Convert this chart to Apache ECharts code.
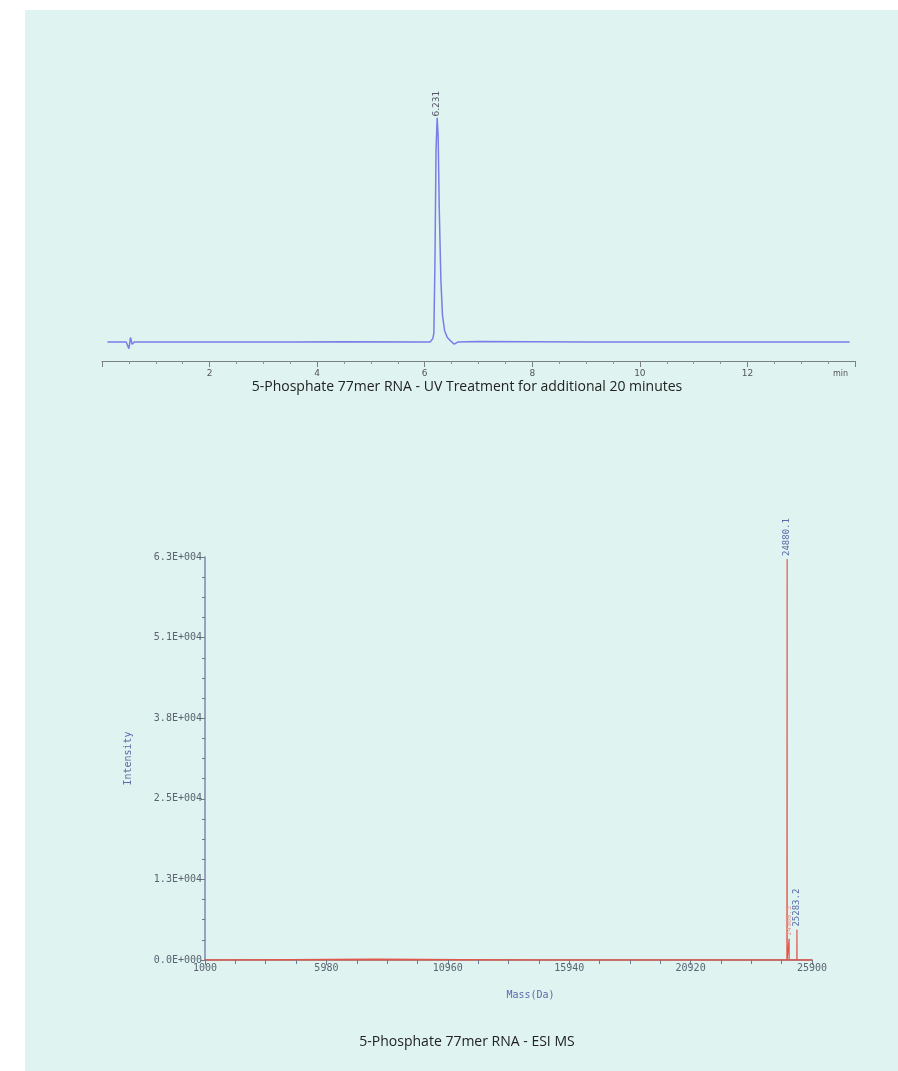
<!DOCTYPE html>
<html>
<head>
<meta charset="utf-8">
<script src="https://cdn.jsdelivr.net/npm/echarts@6/dist/echarts.min.js"></script>
<style>
  html, body { margin: 0; padding: 0; background: #ffffff; }
  #panel { position: absolute; left: 25px; top: 10px; width: 873px; height: 1061px; background: #dff3f1; }
  #main { position: absolute; left: 0; top: 0; width: 898px; height: 1071px; }
</style>
</head>
<body>
<div id="panel"></div>
<div id="main"></div>
<script>
// UV chromatogram (time in min, signal in mAU-ish units)
var uvTime = [0.1, 0.45, 0.5, 0.53, 0.56, 0.6, 3.5, 4.5, 6.1, 6.15, 6.17, 6.19, 6.21, 6.231, 6.25, 6.27, 6.3, 6.33, 6.37, 6.42, 6.48, 6.55, 6.62, 7, 9, 13.9];
var uvSignal = [0, 0, -3, 2, -1, 0, 0, 0.15, 0, 1.5, 4, 35, 85, 100, 92, 60, 28, 12, 5, 2, 0.5, -1, 0, 0.2, 0, 0];
var uvPeakLabel = '6.231';
var uvTickLabels = {0: '', 2: '2', 4: '4', 6: '6', 8: '8', 10: '10', 12: '12'};

// ESI MS deconvoluted spectrum
var massDa = [1000, 8000, 15000, 24870, 24878, 24880.1, 24882, 24955, 24958, 24960.5, 24963, 25278, 25281, 25283.2, 25286, 25900];
var intensity = [0, 150, 0, 0, 0, 63000, 0, 0, 0, 3300, 0, 0, 0, 4700, 0, 0];
var intensityLabels = ['0.0E+000', '1.3E+004', '2.5E+004', '3.8E+004', '5.1E+004', '6.3E+004'];
var massPeakLabels = {'24880.1': '24880.1', '24960.5': '24960.5', '25283.2': '25283.2'};

var uvData = uvTime.map(function (t, i) {
  var item = { value: [t, uvSignal[i]] };
  if (t === 6.231) {
    item.symbol = 'circle';
    item.symbolSize = 1;
    item.label = {
      show: true, formatter: uvPeakLabel, position: 'top', rotate: 90,
      align: 'left', verticalAlign: 'middle', distance: 1,
      color: '#555566', fontSize: 9, fontFamily: 'DejaVu Sans'
    };
  }
  return item;
});

var msData = massDa.map(function (m, i) {
  var item = { value: [m, intensity[i]] };
  var key = String(m);
  if (massPeakLabels[key]) {
    var small = key === '24960.5';
    item.symbol = 'circle';
    item.symbolSize = 1;
    item.label = {
      show: true, formatter: massPeakLabels[key], position: 'top', rotate: 90,
      align: 'left', verticalAlign: 'middle', distance: 3,
      color: small ? '#e89a90' : '#5a6aa8', fontSize: small ? 7 : 9,
      fontFamily: 'DejaVu Sans Mono'
    };
  }
  return item;
});

var myChart = echarts.init(document.getElementById('main'));
var monoFont = 'DejaVu Sans Mono';
var axisGrey = '#6d7a8a';

var option = {
  backgroundColor: 'transparent',
  animation: false,
  title: [
    {
      text: '5-Phosphate 77mer RNA - UV Treatment for additional 20 minutes',
      left: 462, top: 375, textAlign: 'center',
      textStyle: { fontSize: 14, fontWeight: 'normal', color: '#222222', fontFamily: 'Open Sans' }
    },
    {
      text: '5-Phosphate 77mer RNA - ESI MS',
      left: 462, top: 1030, textAlign: 'center',
      textStyle: { fontSize: 14, fontWeight: 'normal', color: '#222222', fontFamily: 'Open Sans' }
    }
  ],
  grid: [
    { left: 102, width: 753, top: 106.8, height: 254.2, outerBoundsMode: 'none' },
    { left: 205, right: 86, top: 557, height: 403, outerBoundsMode: 'none' }
  ],
  xAxis: [
    {
      gridIndex: 0, type: 'value', min: 0, max: 14, interval: 2,
      splitLine: { show: false },
      axisLine: { onZero: false, lineStyle: { color: '#7a8080', width: 1 } },
      axisTick: { length: 6, lineStyle: { color: '#7a8080' } },
      minorTick: { show: true, splitNumber: 4, length: 3, lineStyle: { color: '#8a9090' } },
      axisLabel: {
        color: '#555', fontSize: 9, fontFamily: 'DejaVu Sans', margin: 8,
        formatter: function (v) { return uvTickLabels[v] !== undefined ? uvTickLabels[v] : ''; }
      },
      name: 'min', nameLocation: 'end', nameGap: -22,
      nameTextStyle: { color: '#555', fontSize: 8, fontFamily: 'DejaVu Sans', verticalAlign: 'top', padding: [9, 0, 0, 0] }
    },
    {
      gridIndex: 1, type: 'value', min: 1000, max: 25900, interval: 4980,
      splitLine: { show: false },
      axisLine: { lineStyle: { color: '#b5534d', width: 1.5 } },
      axisTick: { length: 5, lineStyle: { color: axisGrey } },
      minorTick: { show: true, splitNumber: 4, length: 4, lineStyle: { color: axisGrey } },
      axisLabel: {
        color: '#5a6470', fontSize: 10, fontFamily: monoFont, margin: 3,
        formatter: function (v) { return String(Math.round(v)); }
      },
      name: 'Mass(Da)', nameLocation: 'middle', nameGap: 30,
      nameTextStyle: { color: '#5a6aa8', fontSize: 10, fontFamily: monoFont, padding: [0, 0, 0, 44] }
    }
  ],
  yAxis: [
    {
      gridIndex: 0, type: 'value', min: -8.5, max: 105, show: false
    },
    {
      gridIndex: 1, type: 'value', min: 0, max: 63400, interval: 12680,
      splitLine: { show: false },
      axisLine: { show: true, lineStyle: { color: '#7a88b0', width: 1.5 } },
      axisTick: { show: true, length: 4, lineStyle: { color: axisGrey } },
      minorTick: { show: true, splitNumber: 4, length: 3, lineStyle: { color: axisGrey } },
      axisLabel: {
        color: '#5a6470', fontSize: 10, fontFamily: monoFont, margin: 3,
        formatter: function (v) { return intensityLabels[Math.round(v / 12680)]; }
      },
      name: 'Intensity', nameLocation: 'middle', nameGap: 72, nameRotate: 90,
      nameTextStyle: { color: '#5a6aa8', fontSize: 10, fontFamily: monoFont }
    }
  ],
  series: [
    {
      type: 'line', xAxisIndex: 0, yAxisIndex: 0, data: uvData,
      symbol: 'none', showSymbol: true, itemStyle: { color: '#7c7ce6' },
      lineStyle: { color: '#7c7ce6', width: 1.5 }
    },
    {
      type: 'line', xAxisIndex: 1, yAxisIndex: 1, data: msData,
      symbol: 'none', showSymbol: true, itemStyle: { color: '#e2574c' },
      lineStyle: { color: '#e2574c', width: 1.2 },
      labelLayout: { hideOverlap: false }
    }
  ]
};
myChart.setOption(option);
</script>
</body>
</html>
